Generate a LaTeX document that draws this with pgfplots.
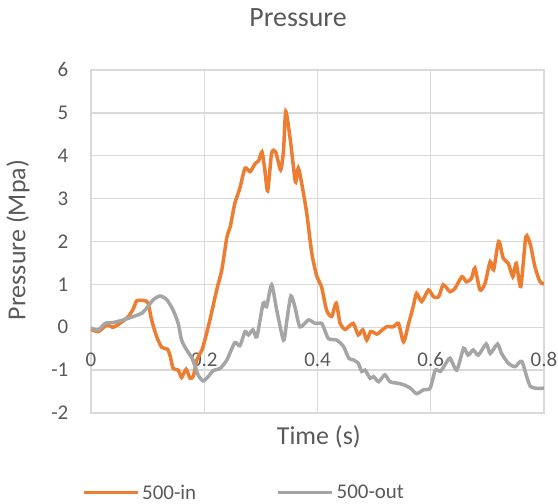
\documentclass[border=0pt]{standalone}
\usepackage{fontspec}
\setmainfont{Carlito}
\usepackage{pgfplots}
\pgfplotsset{compat=1.18}
\definecolor{cOrange}{HTML}{ED7D31}
\definecolor{cGray}{HTML}{A5A5A5}
\definecolor{cGrid}{HTML}{D9D9D9}
\definecolor{cText}{HTML}{595959}
\begin{document}
\begin{tikzpicture}
\path[use as bounding box] (-91bp,-91bp) rectangle (467bp,413bp);
\begin{axis}[
  scale only axis,
  width=453bp, height=343bp,
  xmin=0, xmax=0.8, ymin=-2, ymax=6,
  xtick={0,0.2,0.4,0.6,0.8},
  ytick={-2,-1,0,1,2,3,4,5,6},
  xticklabels={0,0.2,0.4,0.6,0.8},
  grid=major,
  major grid style={cGrid, line width=1.3bp},
  axis line style={cGrid, line width=1.3bp},
  major tick length=0pt,
  /pgf/number format/assume math mode=true,
  tick label style={font=\fontsize{21}{25}\selectfont, text=cText},
  xticklabel style={anchor=center, inner sep=0pt, yshift=53.7bp},
  yticklabel style={anchor=east, inner sep=0pt, xshift=-22.5bp},
  yticklabel={\pgfmathprintnumber[assume math mode=true]{\tick}},
  title={Pressure},
  title style={at={(0.457,1.134)}, anchor=center, font=\fontsize{28}{32}\selectfont, text=cText},
  xlabel={Time (s)},
  xlabel style={at={(0.503,-0.07)}, anchor=center, font=\fontsize{26}{30}\selectfont, text=cText},
  ylabel={Pressure (Mpa)},
  ylabel style={at={(-0.161,0.504)}, anchor=center, rotate=0, font=\fontsize{26}{30}\selectfont, text=cText},
  legend columns=2,
  legend style={at={(-0.0199,-0.232)}, anchor=west, draw=none, fill=none,
    font=\fontsize{21}{25}\selectfont, text=cText, inner sep=0pt,
    nodes={inner sep=2.5bp},
    /tikz/every even column/.append style={column sep=78bp}},
  legend image code/.code={\draw[#1, line width=3.5bp] (0bp,0bp) -- (54bp,0bp);},
]
\addplot[cOrange, line width=3.5bp, smooth, tension=0.4] coordinates {
(0,-0.05) (0.013,-0.1) (0.028,0.05) (0.039,0.0) (0.051,0.09) (0.066,0.25) (0.075,0.44) (0.081,0.62) (0.095,0.62) (0.101,0.56) (0.107,0.17) (0.116,-0.22) (0.125,-0.47) (0.135,-0.51) (0.14,-0.68) (0.145,-0.96) (0.154,-1.0) (0.16,-1.17) (0.168,-0.98) (0.175,-1.19) (0.181,-1.13) (0.187,-0.76) (0.196,-0.53) (0.201,-0.3) (0.21,0.17) (0.222,0.87) (0.231,1.34) (0.24,2.1) (0.246,2.35) (0.254,2.89) (0.263,3.25) (0.272,3.71) (0.281,3.63) (0.29,3.82) (0.296,3.88) (0.302,4.09) (0.307,3.67) (0.312,3.18) (0.319,4.06) (0.326,4.09) (0.335,3.67) (0.34,4.13) (0.344,5.03) (0.352,4.37) (0.361,3.39) (0.366,3.71) (0.372,3.36) (0.381,2.66) (0.39,1.72) (0.399,1.18) (0.407,0.95) (0.416,0.40) (0.425,0.25) (0.433,0.56) (0.44,0.09) (0.449,-0.05) (0.463,0.09) (0.472,-0.18) (0.48,-0.06) (0.487,-0.3) (0.494,-0.1) (0.505,-0.16) (0.511,-0.1) (0.522,0.01) (0.534,0.01) (0.543,0.09) (0.552,-0.34) (0.561,0.09) (0.569,0.48) (0.575,0.79) (0.584,0.6) (0.596,0.87) (0.605,0.71) (0.614,0.71) (0.622,0.99) (0.634,0.83) (0.643,0.91) (0.655,1.18) (0.663,1.06) (0.672,1.14) (0.678,1.38) (0.687,0.87) (0.696,1.03) (0.705,1.53) (0.711,1.34) (0.72,2.0) (0.728,1.61) (0.737,1.49) (0.745,1.18) (0.751,1.49) (0.759,0.95) (0.768,2.11) (0.776,1.92) (0.784,1.41) (0.793,1.06) (0.8,1.01)
};
\addlegendentry{500-in}
\addplot[cGray, line width=3.5bp, smooth, tension=0.4] coordinates {
(0,-0.02) (0.013,-0.06) (0.025,0.09) (0.039,0.11) (0.057,0.17) (0.075,0.25) (0.09,0.33) (0.098,0.44) (0.11,0.64) (0.122,0.73) (0.134,0.64) (0.145,0.4) (0.154,0.09) (0.16,-0.3) (0.169,-0.53) (0.18,-0.76) (0.189,-1.11) (0.198,-1.25) (0.207,-1.15) (0.216,-1.01) (0.228,-0.96) (0.24,-0.76) (0.254,-0.36) (0.263,-0.43) (0.272,-0.1) (0.278,-0.18) (0.286,-0.06) (0.293,-0.22) (0.304,0.56) (0.31,0.48) (0.319,0.99) (0.328,0.4) (0.34,-0.3) (0.346,0.17) (0.353,0.73) (0.36,0.48) (0.369,0.01) (0.384,0.17) (0.396,0.09) (0.408,0.08) (0.419,-0.26) (0.434,-0.3) (0.446,-0.45) (0.455,-0.72) (0.463,-0.76) (0.472,-0.84) (0.478,-1.03) (0.484,-1.0) (0.493,-1.19) (0.499,-1.15) (0.508,-1.27) (0.519,-1.11) (0.528,-1.27) (0.543,-1.31) (0.552,-1.34) (0.564,-1.42) (0.575,-1.55) (0.587,-1.46) (0.599,-1.42) (0.608,-1.0) (0.617,-1.03) (0.625,-0.88) (0.634,-0.72) (0.646,-1.0) (0.658,-0.49) (0.666,-0.65) (0.675,-0.53) (0.684,-0.65) (0.698,-0.39) (0.705,-0.61) (0.718,-0.39) (0.725,-0.61) (0.737,-0.84) (0.749,-0.92) (0.761,-0.8) (0.776,-1.38) (0.8,-1.42)
};
\addlegendentry{500-out}
\end{axis}
\end{tikzpicture}
\end{document}
